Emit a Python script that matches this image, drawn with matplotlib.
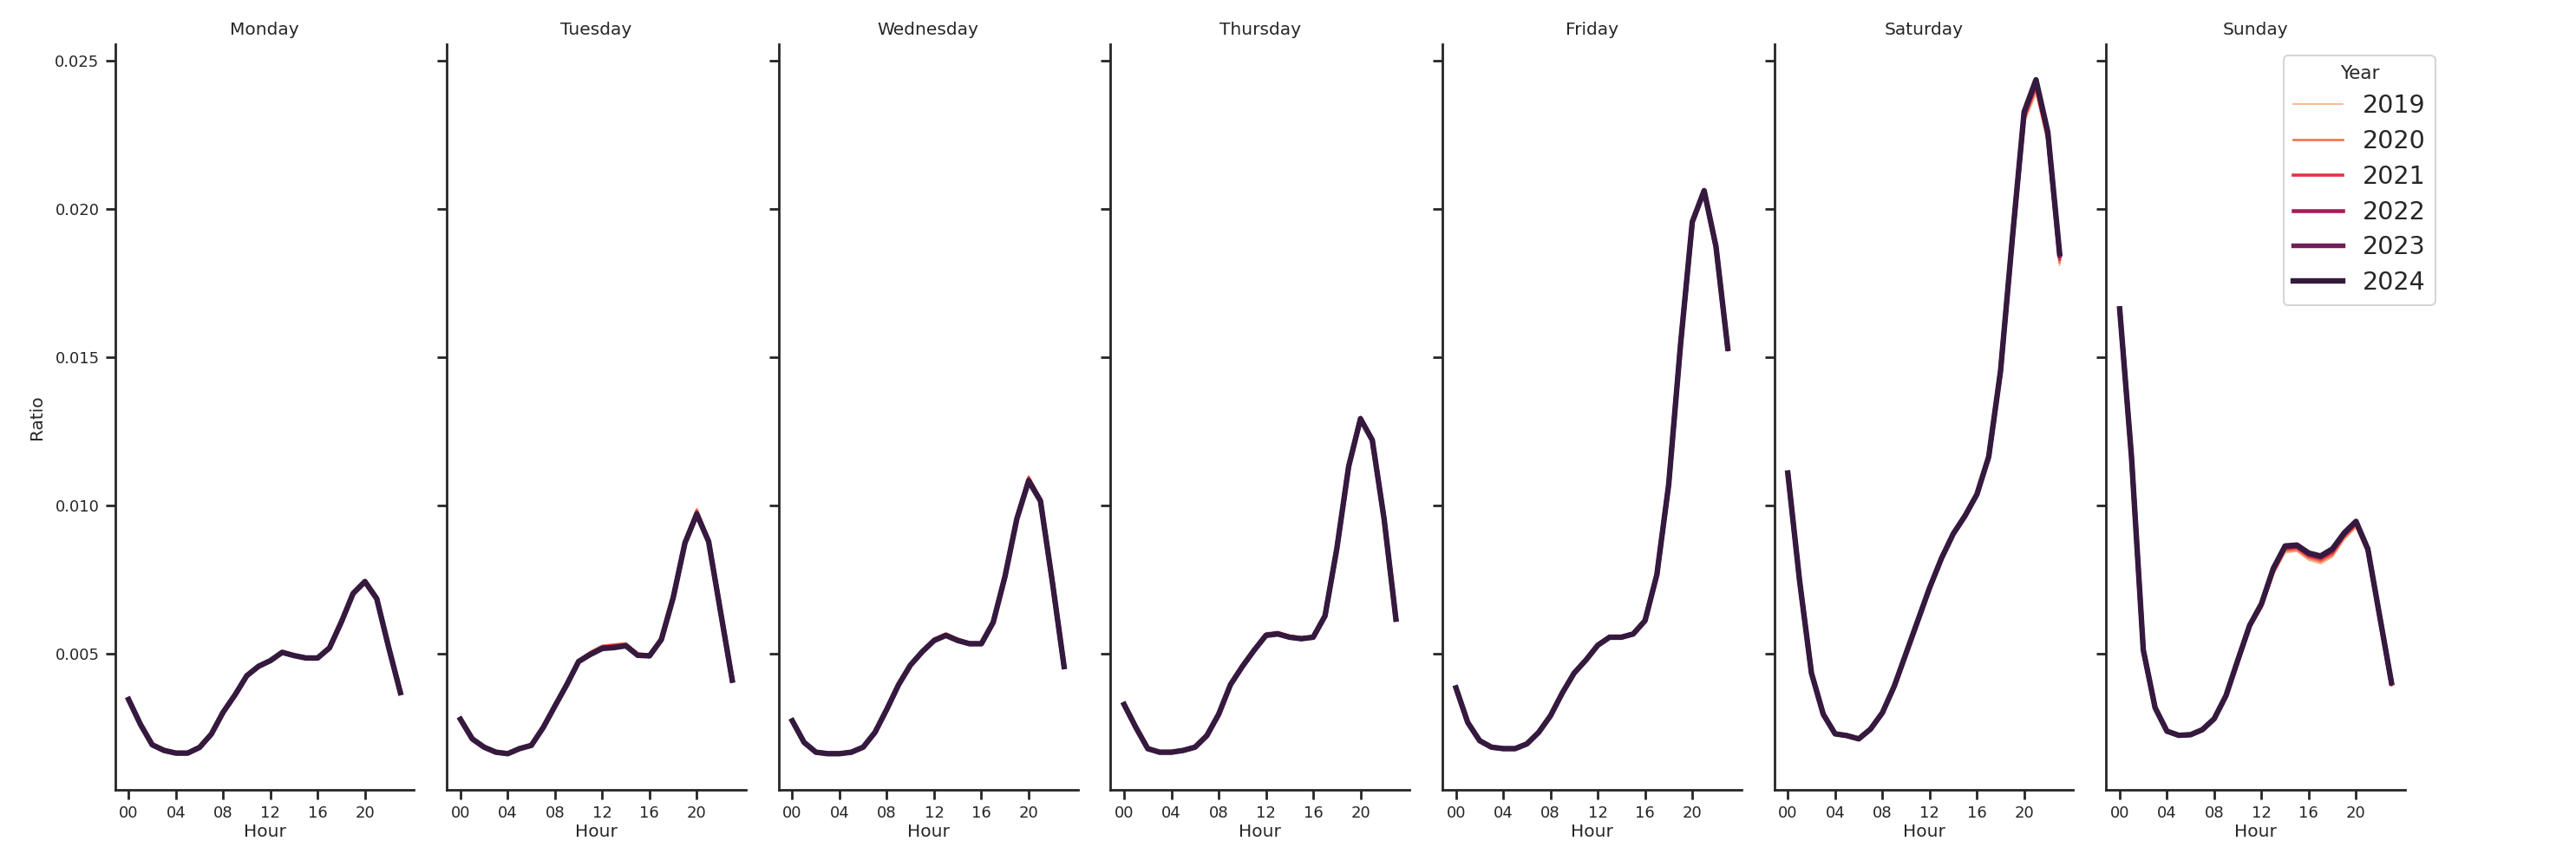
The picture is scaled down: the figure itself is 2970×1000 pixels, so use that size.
import matplotlib
matplotlib.use("Agg")
import matplotlib.pyplot as plt
from matplotlib.lines import Line2D

plt.rcParams["font.family"] = ["DejaVu Sans"]

YEARS = ["2019", "2020", "2021", "2022", "2023", "2024"]
COLORS = ["#f6b48f", "#f37651", "#e13342", "#ad1759", "#701f57", "#35193e"]
LINE_WIDTHS = [1.3, 1.95, 2.6, 3.25, 3.9, 4.55]
DAYS = ["Monday", "Tuesday", "Wednesday", "Thursday", "Friday", "Saturday", "Sunday"]
HOURS = list(range(24))
TICK_HOURS = [0, 4, 8, 12, 16, 20]
TICK_LABELS = ["00", "04", "08", "12", "16", "20"]
YTICKS = [0.005, 0.010, 0.015, 0.020, 0.025]

# rows: 2019, 2020, 2021, 2022, 2023, 2024
MONDAY = [
    [0.00347, 0.00262, 0.00193, 0.00172, 0.00163, 0.00162, 0.00182, 0.00226, 0.00300, 0.00358, 0.00424, 0.00458, 0.00478, 0.00505, 0.00494, 0.00486, 0.00484, 0.00517, 0.00602, 0.00696, 0.00735, 0.00682, 0.00520, 0.00366],
    [0.00346, 0.00262, 0.00193, 0.00172, 0.00163, 0.00163, 0.00182, 0.00227, 0.00301, 0.00359, 0.00424, 0.00458, 0.00477, 0.00505, 0.00494, 0.00486, 0.00485, 0.00518, 0.00603, 0.00698, 0.00737, 0.00683, 0.00521, 0.00367],
    [0.00346, 0.00261, 0.00192, 0.00173, 0.00163, 0.00163, 0.00183, 0.00227, 0.00301, 0.00359, 0.00425, 0.00457, 0.00477, 0.00504, 0.00493, 0.00485, 0.00485, 0.00518, 0.00604, 0.00700, 0.00739, 0.00684, 0.00521, 0.00367],
    [0.00345, 0.00261, 0.00192, 0.00173, 0.00164, 0.00164, 0.00183, 0.00228, 0.00302, 0.00360, 0.00425, 0.00457, 0.00476, 0.00504, 0.00493, 0.00485, 0.00485, 0.00519, 0.00605, 0.00701, 0.00741, 0.00685, 0.00522, 0.00368],
    [0.00345, 0.00261, 0.00192, 0.00173, 0.00164, 0.00164, 0.00183, 0.00228, 0.00302, 0.00360, 0.00425, 0.00457, 0.00476, 0.00504, 0.00493, 0.00485, 0.00485, 0.00519, 0.00606, 0.00702, 0.00742, 0.00685, 0.00522, 0.00368],
    [0.00345, 0.00261, 0.00192, 0.00173, 0.00164, 0.00164, 0.00183, 0.00228, 0.00302, 0.00360, 0.00425, 0.00457, 0.00476, 0.00504, 0.00493, 0.00485, 0.00485, 0.00519, 0.00606, 0.00703, 0.00743, 0.00685, 0.00522, 0.00368],
]
TUESDAY = [
    [0.00280, 0.00213, 0.00184, 0.00167, 0.00162, 0.00178, 0.00190, 0.00251, 0.00326, 0.00400, 0.00480, 0.00507, 0.00528, 0.00532, 0.00536, 0.00502, 0.00498, 0.00552, 0.00695, 0.00885, 0.00990, 0.00890, 0.00650, 0.00412],
    [0.00279, 0.00213, 0.00184, 0.00167, 0.00162, 0.00178, 0.00190, 0.00251, 0.00325, 0.00399, 0.00478, 0.00505, 0.00526, 0.00530, 0.00534, 0.00500, 0.00497, 0.00551, 0.00693, 0.00882, 0.00985, 0.00887, 0.00648, 0.00411],
    [0.00279, 0.00212, 0.00184, 0.00167, 0.00162, 0.00179, 0.00190, 0.00250, 0.00324, 0.00397, 0.00476, 0.00502, 0.00523, 0.00527, 0.00531, 0.00498, 0.00495, 0.00549, 0.00691, 0.00879, 0.00980, 0.00883, 0.00646, 0.00411],
    [0.00278, 0.00212, 0.00184, 0.00167, 0.00162, 0.00179, 0.00190, 0.00250, 0.00323, 0.00396, 0.00474, 0.00499, 0.00520, 0.00523, 0.00528, 0.00496, 0.00493, 0.00548, 0.00689, 0.00876, 0.00975, 0.00880, 0.00645, 0.00410],
    [0.00278, 0.00212, 0.00184, 0.00167, 0.00162, 0.00179, 0.00190, 0.00250, 0.00323, 0.00395, 0.00473, 0.00498, 0.00518, 0.00521, 0.00527, 0.00494, 0.00492, 0.00547, 0.00688, 0.00874, 0.00972, 0.00879, 0.00644, 0.00410],
    [0.00278, 0.00212, 0.00184, 0.00167, 0.00162, 0.00179, 0.00190, 0.00250, 0.00323, 0.00395, 0.00473, 0.00497, 0.00517, 0.00520, 0.00526, 0.00494, 0.00492, 0.00547, 0.00688, 0.00873, 0.00970, 0.00878, 0.00644, 0.00410],
]
WEDNESDAY = [
    [0.00274, 0.00201, 0.00167, 0.00162, 0.00162, 0.00167, 0.00184, 0.00234, 0.00313, 0.00397, 0.00465, 0.00512, 0.00552, 0.00570, 0.00552, 0.00538, 0.00537, 0.00608, 0.00765, 0.00962, 0.01100, 0.01025, 0.00748, 0.00457],
    [0.00274, 0.00201, 0.00167, 0.00162, 0.00162, 0.00167, 0.00184, 0.00234, 0.00313, 0.00396, 0.00464, 0.00510, 0.00550, 0.00567, 0.00550, 0.00537, 0.00536, 0.00607, 0.00763, 0.00960, 0.01096, 0.01022, 0.00747, 0.00457],
    [0.00273, 0.00200, 0.00167, 0.00162, 0.00162, 0.00167, 0.00184, 0.00234, 0.00312, 0.00396, 0.00463, 0.00508, 0.00547, 0.00565, 0.00547, 0.00535, 0.00535, 0.00606, 0.00762, 0.00958, 0.01092, 0.01020, 0.00746, 0.00456],
    [0.00273, 0.00200, 0.00167, 0.00162, 0.00162, 0.00167, 0.00184, 0.00234, 0.00312, 0.00395, 0.00462, 0.00507, 0.00545, 0.00563, 0.00545, 0.00534, 0.00534, 0.00605, 0.00761, 0.00956, 0.01088, 0.01018, 0.00745, 0.00456],
    [0.00273, 0.00200, 0.00167, 0.00162, 0.00162, 0.00167, 0.00184, 0.00234, 0.00312, 0.00395, 0.00461, 0.00506, 0.00544, 0.00562, 0.00544, 0.00533, 0.00533, 0.00605, 0.00760, 0.00955, 0.01085, 0.01016, 0.00744, 0.00456],
    [0.00273, 0.00200, 0.00167, 0.00162, 0.00162, 0.00167, 0.00184, 0.00234, 0.00312, 0.00395, 0.00461, 0.00506, 0.00544, 0.00561, 0.00544, 0.00533, 0.00533, 0.00605, 0.00760, 0.00954, 0.01082, 0.01015, 0.00744, 0.00456],
]
THURSDAY = [
    [0.00329, 0.00251, 0.00179, 0.00167, 0.00167, 0.00173, 0.00184, 0.00223, 0.00296, 0.00397, 0.00459, 0.00517, 0.00570, 0.00575, 0.00562, 0.00556, 0.00559, 0.00630, 0.00858, 0.01137, 0.01302, 0.01226, 0.00957, 0.00617],
    [0.00329, 0.00251, 0.00179, 0.00167, 0.00167, 0.00173, 0.00184, 0.00223, 0.00296, 0.00396, 0.00458, 0.00515, 0.00567, 0.00572, 0.00560, 0.00554, 0.00558, 0.00629, 0.00857, 0.01135, 0.01298, 0.01224, 0.00956, 0.00617],
    [0.00328, 0.00250, 0.00179, 0.00167, 0.00167, 0.00173, 0.00184, 0.00223, 0.00295, 0.00396, 0.00457, 0.00513, 0.00565, 0.00570, 0.00558, 0.00552, 0.00556, 0.00628, 0.00856, 0.01133, 0.01296, 0.01222, 0.00955, 0.00616],
    [0.00328, 0.00250, 0.00179, 0.00167, 0.00167, 0.00173, 0.00184, 0.00223, 0.00295, 0.00395, 0.00456, 0.00512, 0.00563, 0.00568, 0.00556, 0.00551, 0.00555, 0.00627, 0.00855, 0.01132, 0.01294, 0.01221, 0.00954, 0.00616],
    [0.00328, 0.00250, 0.00179, 0.00167, 0.00167, 0.00173, 0.00184, 0.00223, 0.00295, 0.00395, 0.00456, 0.00511, 0.00562, 0.00567, 0.00555, 0.00550, 0.00555, 0.00627, 0.00854, 0.01131, 0.01293, 0.01220, 0.00954, 0.00616],
    [0.00328, 0.00250, 0.00179, 0.00167, 0.00167, 0.00173, 0.00184, 0.00223, 0.00295, 0.00395, 0.00456, 0.00511, 0.00561, 0.00566, 0.00555, 0.00550, 0.00555, 0.00627, 0.00854, 0.01131, 0.01292, 0.01220, 0.00954, 0.00616],
]
FRIDAY = [
    [0.00385, 0.00268, 0.00206, 0.00184, 0.00179, 0.00179, 0.00195, 0.00234, 0.00291, 0.00368, 0.00436, 0.00481, 0.00533, 0.00560, 0.00560, 0.00570, 0.00614, 0.00768, 0.01068, 0.01535, 0.01950, 0.02050, 0.01862, 0.01520],
    [0.00385, 0.00268, 0.00206, 0.00184, 0.00179, 0.00179, 0.00195, 0.00234, 0.00291, 0.00368, 0.00435, 0.00480, 0.00531, 0.00558, 0.00558, 0.00569, 0.00613, 0.00767, 0.01069, 0.01537, 0.01952, 0.02054, 0.01866, 0.01523],
    [0.00384, 0.00267, 0.00206, 0.00184, 0.00179, 0.00179, 0.00195, 0.00234, 0.00290, 0.00367, 0.00435, 0.00479, 0.00530, 0.00557, 0.00557, 0.00568, 0.00612, 0.00767, 0.01069, 0.01538, 0.01954, 0.02057, 0.01869, 0.01526],
    [0.00384, 0.00267, 0.00206, 0.00184, 0.00179, 0.00179, 0.00195, 0.00234, 0.00290, 0.00367, 0.00434, 0.00478, 0.00529, 0.00556, 0.00556, 0.00567, 0.00611, 0.00766, 0.01070, 0.01540, 0.01955, 0.02059, 0.01871, 0.01528],
    [0.00384, 0.00267, 0.00206, 0.00184, 0.00179, 0.00179, 0.00195, 0.00234, 0.00290, 0.00367, 0.00434, 0.00478, 0.00528, 0.00555, 0.00555, 0.00566, 0.00611, 0.00766, 0.01070, 0.01541, 0.01956, 0.02061, 0.01873, 0.01529],
    [0.00384, 0.00267, 0.00206, 0.00184, 0.00179, 0.00179, 0.00195, 0.00234, 0.00290, 0.00367, 0.00434, 0.00478, 0.00528, 0.00555, 0.00555, 0.00566, 0.00611, 0.00766, 0.01070, 0.01541, 0.01957, 0.02062, 0.01874, 0.01530],
]
SATURDAY = [
    [0.01105, 0.00741, 0.00433, 0.00295, 0.00229, 0.00223, 0.00212, 0.00244, 0.00298, 0.00385, 0.00494, 0.00604, 0.00714, 0.00812, 0.00895, 0.00956, 0.01028, 0.01150, 0.01435, 0.01880, 0.02290, 0.02390, 0.02220, 0.01810],
    [0.01106, 0.00742, 0.00433, 0.00295, 0.00229, 0.00223, 0.00212, 0.00244, 0.00299, 0.00386, 0.00496, 0.00606, 0.00716, 0.00815, 0.00898, 0.00958, 0.01031, 0.01155, 0.01440, 0.01886, 0.02300, 0.02402, 0.02230, 0.01820],
    [0.01107, 0.00743, 0.00434, 0.00295, 0.00229, 0.00223, 0.00212, 0.00245, 0.00299, 0.00387, 0.00498, 0.00608, 0.00719, 0.00818, 0.00901, 0.00961, 0.01034, 0.01159, 0.01446, 0.01892, 0.02310, 0.02414, 0.02240, 0.01830],
    [0.01108, 0.00743, 0.00434, 0.00295, 0.00229, 0.00223, 0.00212, 0.00245, 0.00300, 0.00388, 0.00499, 0.00610, 0.00721, 0.00820, 0.00903, 0.00963, 0.01036, 0.01162, 0.01450, 0.01897, 0.02318, 0.02424, 0.02250, 0.01840],
    [0.01109, 0.00744, 0.00434, 0.00295, 0.00229, 0.00223, 0.00212, 0.00245, 0.00300, 0.00389, 0.00500, 0.00611, 0.00722, 0.00821, 0.00904, 0.00965, 0.01037, 0.01164, 0.01452, 0.01900, 0.02324, 0.02432, 0.02256, 0.01846],
    [0.01109, 0.00744, 0.00434, 0.00295, 0.00229, 0.00223, 0.00212, 0.00245, 0.00300, 0.00389, 0.00500, 0.00611, 0.00722, 0.00821, 0.00904, 0.00965, 0.01037, 0.01164, 0.01453, 0.01901, 0.02328, 0.02436, 0.02260, 0.01850],
]
SUNDAY = [
    [0.01660, 0.01160, 0.00510, 0.00316, 0.00237, 0.00223, 0.00225, 0.00241, 0.00277, 0.00352, 0.00470, 0.00585, 0.00650, 0.00765, 0.00840, 0.00845, 0.00815, 0.00803, 0.00825, 0.00885, 0.00925, 0.00835, 0.00610, 0.00390],
    [0.01661, 0.01161, 0.00511, 0.00316, 0.00237, 0.00223, 0.00225, 0.00242, 0.00278, 0.00354, 0.00472, 0.00588, 0.00655, 0.00770, 0.00846, 0.00850, 0.00822, 0.00810, 0.00832, 0.00890, 0.00930, 0.00840, 0.00615, 0.00393],
    [0.01662, 0.01162, 0.00511, 0.00317, 0.00238, 0.00224, 0.00226, 0.00242, 0.00279, 0.00355, 0.00474, 0.00590, 0.00660, 0.00777, 0.00853, 0.00857, 0.00829, 0.00818, 0.00840, 0.00897, 0.00937, 0.00845, 0.00620, 0.00396],
    [0.01662, 0.01163, 0.00512, 0.00317, 0.00238, 0.00224, 0.00226, 0.00243, 0.00280, 0.00357, 0.00476, 0.00593, 0.00664, 0.00782, 0.00858, 0.00861, 0.00834, 0.00824, 0.00847, 0.00902, 0.00942, 0.00850, 0.00624, 0.00399],
    [0.01663, 0.01164, 0.00512, 0.00317, 0.00238, 0.00224, 0.00226, 0.00243, 0.00280, 0.00358, 0.00477, 0.00594, 0.00667, 0.00785, 0.00861, 0.00864, 0.00837, 0.00827, 0.00851, 0.00905, 0.00945, 0.00852, 0.00626, 0.00401],
    [0.01663, 0.01164, 0.00512, 0.00317, 0.00238, 0.00224, 0.00226, 0.00243, 0.00280, 0.00358, 0.00478, 0.00595, 0.00668, 0.00787, 0.00863, 0.00866, 0.00839, 0.00829, 0.00853, 0.00907, 0.00946, 0.00853, 0.00627, 0.00402],
]
DAY_DATA = [MONDAY, TUESDAY, WEDNESDAY, THURSDAY, FRIDAY, SATURDAY, SUNDAY]

INK = "#262626"
W, H = 2970.0, 1000.0
fig = plt.figure(figsize=(29.7, 10), dpi=100)

for i, (day, rows) in enumerate(zip(DAYS, DAY_DATA)):
    left = (132.6 + i * 382.6) / W
    ax = fig.add_axes([left, 1 - 911 / H, 344.7 / W, 860 / H])
    for yr, col, lw, vals in zip(YEARS, COLORS, LINE_WIDTHS, rows):
        ax.plot(HOURS, vals, color=col, linewidth=lw, label=yr)
    ax.set_xlim(-1.15, 24.15)
    ax.set_ylim(0.0004, 0.02556)
    ax.set_xticks(TICK_HOURS)
    ax.set_xticklabels(TICK_LABELS)
    ax.set_yticks(YTICKS)
    for s in ["top", "right"]:
        ax.spines[s].set_visible(False)
    for s in ["left", "bottom"]:
        ax.spines[s].set_linewidth(2.0)
        ax.spines[s].set_color(INK)
    ax.tick_params(length=8, width=2.0, color=INK, labelsize=13, labelcolor=INK, pad=5)
    if i > 0:
        ax.tick_params(labelleft=False)
    else:
        ax.set_ylabel("Ratio", fontsize=14.5, color=INK, labelpad=8)
    ax.set_title(day, fontsize=14.5, color=INK, pad=8)
    ax.set_xlabel("Hour", fontsize=14.5, color=INK, labelpad=2)

handles = [Line2D([], [], color=c, linewidth=lw) for c, lw in zip(COLORS, LINE_WIDTHS)]
leg = fig.legend(handles, YEARS, title="Year", loc="upper right",
                 bbox_to_anchor=(2808 / W, 1 - 64 / H), bbox_transform=fig.transFigure,
                 borderaxespad=0, fontsize=20.5, title_fontsize=15.5, labelspacing=0.45,
                 frameon=True, fancybox=True, edgecolor="0.8")
leg.get_frame().set_linewidth(1.5)
for t in leg.get_texts():
    t.set_color(INK)
leg.get_title().set_color(INK)

fig.savefig("out.png", dpi=100)
